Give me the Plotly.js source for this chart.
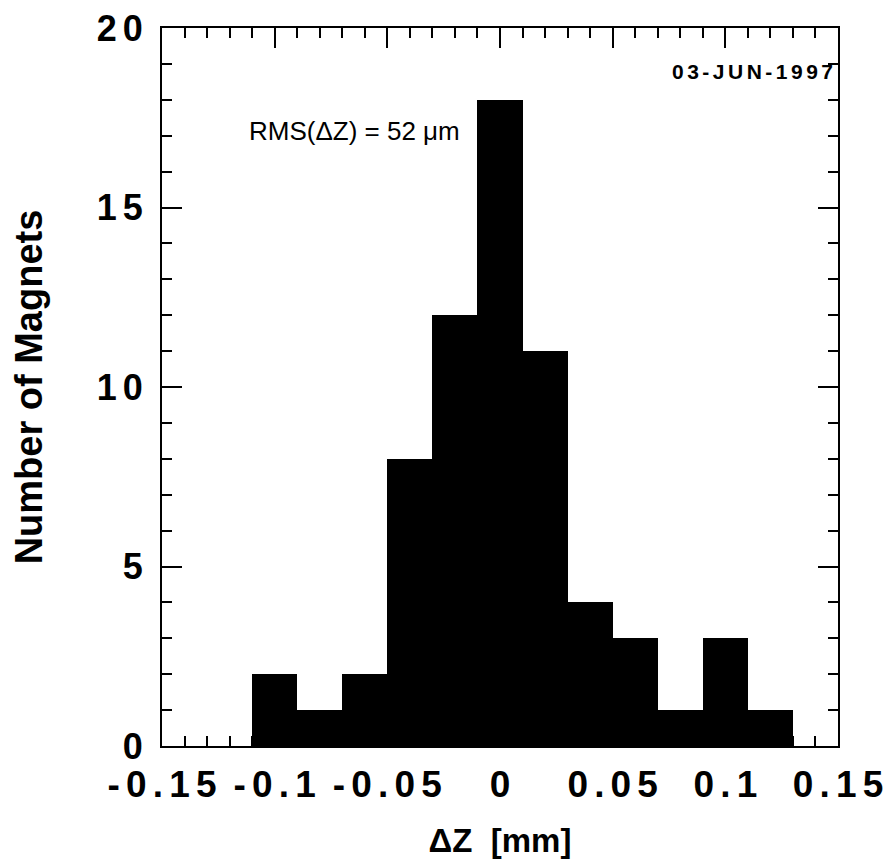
<!DOCTYPE html>
<html>
<head>
<meta charset="utf-8">
<script src="https://cdn.plot.ly/plotly-3.0.1.min.js"></script>
<style>html,body{margin:0;padding:0;background:#fff;}#chart{width:889px;height:864px;}</style>
</head>
<body>
<div id="chart"></div>
<script>
// Histogram of magnet position differences (bin width 0.02 mm)
const binCenters = [-0.10, -0.08, -0.06, -0.04, -0.02, 0.00, 0.02, 0.04, 0.06, 0.08, 0.10, 0.12];
const counts     = [2, 1, 2, 8, 12, 18, 11, 4, 3, 1, 3, 1];
const binWidth = 0.02;

const xTickVals   = [-0.15, -0.1, -0.05, 0, 0.05, 0.1, 0.15];
const xTickLabels = ['-0.15', '-0.1', '-0.05', '0', '0.05', '0.1', '0.15'];
const yTickVals   = [0, 5, 10, 15, 20];
const yTickLabels = ['0', '5', '10', '15', '20'];

const xTitle = 'ΔZ  [mm]';
const yTitle = 'Number of Magnets';
const rmsText = 'RMS(ΔZ) = 52 μm';
const dateText = '03-JUN-1997';

const SP = '\u2006';
const spaced = s => s.split('').join(SP);

const FONT = 'Liberation Sans, Arial, Helvetica, sans-serif';

const trace = {
  type: 'bar',
  x: binCenters,
  y: counts,
  width: binCenters.map(() => binWidth),
  marker: {color: '#000000', line: {width: 0}},
  hoverinfo: 'x+y'
};

const axisCommon = {
  showgrid: false,
  zeroline: false,
  showline: true,
  linecolor: '#000',
  linewidth: 2,
  mirror: 'ticks',
  ticks: 'inside',
  ticklen: 20,
  tickwidth: 2,
  tickcolor: '#000'
};

const layout = {
  width: 889,
  height: 864,
  paper_bgcolor: '#fff',
  plot_bgcolor: '#fff',
  showlegend: false,
  margin: {l: 162, r: 51, t: 28, b: 118},
  bargap: 0,
  xaxis: Object.assign({}, axisCommon, {
    range: [-0.15, 0.15],
    tickmode: 'array',
    tickvals: xTickVals,
    ticktext: xTickLabels.map(spaced),
    ticklabelstandoff: 5,
    tickfont: {family: FONT, size: 37, color: '#000', weight: 'bold'},
    minor: {dtick: 0.01, tick0: 0, ticks: 'inside', ticklen: 10, tickwidth: 2, tickcolor: '#000', showgrid: false},
    title: {text: xTitle, font: {family: FONT, size: 33, color: '#000', weight: 'bold'}, standoff: 24}
  }),
  yaxis: Object.assign({}, axisCommon, {
    range: [0, 20],
    tickmode: 'array',
    tickvals: yTickVals,
    ticktext: yTickLabels.map(spaced),
    ticklabelstandoff: 10,
    tickfont: {family: FONT, size: 36, color: '#000', weight: 'bold'},
    minor: {dtick: 1, tick0: 0, ticks: 'inside', ticklen: 10, tickwidth: 2, tickcolor: '#000', showgrid: false},
    title: {text: yTitle, font: {family: FONT, size: 38, color: '#000', weight: 'bold'}, standoff: 42}
  }),
  annotations: [
    {
      text: rmsText, xref: 'paper', yref: 'paper',
      x: 0.125, y: 0.857, xanchor: 'left', yanchor: 'middle',
      showarrow: false,
      font: {family: FONT, size: 26, color: '#000'}
    },
    {
      text: spaced(dateText), xref: 'paper', yref: 'paper',
      x: 0.996, y: 0.94, xanchor: 'right', yanchor: 'middle',
      showarrow: false,
      font: {family: FONT, size: 21, color: '#000', weight: 'bold'}
    }
  ]
};

Plotly.newPlot('chart', [trace], layout, {displayModeBar: false, staticPlot: true});
</script>
</body>
</html>
